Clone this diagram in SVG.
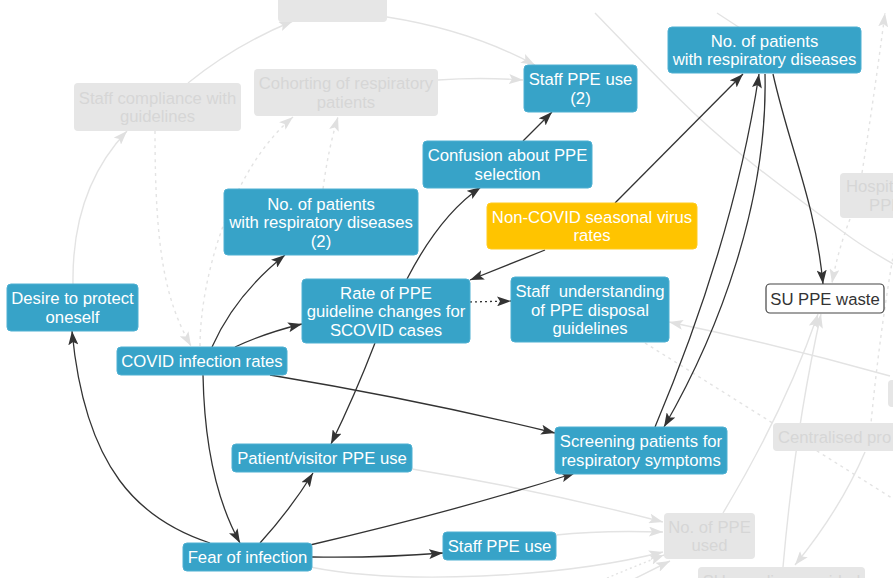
<svg xmlns="http://www.w3.org/2000/svg" width="893" height="578" viewBox="0 0 893 578">
<defs>
<style>
.n{fill:#37a3c8;stroke:#4fb0d2;stroke-width:1}
.y{fill:#ffc400;stroke:#ffcb20;stroke-width:1}
.g{fill:#e6e6e6;stroke:none}
.w{fill:#ffffff;stroke:#444;stroke-width:1.2}
.t{font-family:"Liberation Sans",Arial,sans-serif;font-size:16.7px;fill:#ffffff;text-anchor:middle}
.tg{font-family:"Liberation Sans",Arial,sans-serif;font-size:16.7px;fill:#d6d6d6;text-anchor:middle}
.td{font-family:"Liberation Sans",Arial,sans-serif;font-size:16.7px;fill:#333;text-anchor:middle}
.e{fill:none;stroke:#333;stroke-width:1.3}
.eg{fill:none;stroke:#e3e3e3;stroke-width:1.4}
.dash{stroke-dasharray:3 4}
.dot{stroke-dasharray:2 3}
</style>
<marker id="ad" markerUnits="userSpaceOnUse" orient="auto" markerWidth="14" markerHeight="10" refX="14" refY="5"><path d="M0,0 L14,5 L0,10 L3,5 z" fill="#333"/></marker>
<marker id="ag" markerUnits="userSpaceOnUse" orient="auto" markerWidth="14" markerHeight="10" refX="14" refY="5"><path d="M0,0 L14,5 L0,10 L3,5 z" fill="#e0e0e0"/></marker>
</defs>
<rect x="0" y="0" width="893" height="578" fill="#ffffff"/>
<g id="connectors-faded">
<path class="eg" d="M387,17 Q470,30 535,65" marker-end="url(#ag)"/>
<path class="eg" d="M438,80 Q480,77 523,80" marker-end="url(#ag)"/>
<path class="eg" d="M188,83 Q235,45 293,21" marker-end="url(#ag)"/>
<path class="eg" d="M73,284 C72,220 90,170 127,131" marker-end="url(#ag)"/>
<path class="eg dash" d="M155,131 C155,250 165,300 191,346" marker-end="url(#ag)"/>
<path class="eg dash" d="M200,346 C200,280 230,170 293,117" marker-end="url(#ag)"/>
<path class="eg dash" d="M323,189 Q328,150 338,117" marker-end="url(#ag)"/>
<path class="eg" d="M595,13 C660,80 700,125 780,185 S860,245 895,265"/>
<path class="eg" d="M717,13 L740,28"/>
<path class="eg dash" d="M862,173 Q875,90 885,13" marker-end="url(#ag)"/>
<path class="eg dash" d="M850,219 Q838,250 832,283" marker-end="url(#ag)"/>
<path class="eg dash" d="M895,245 Q880,330 871,423"/>
<path class="eg dash" d="M645,343 Q760,415 895,500"/>
<path class="eg" d="M890,376 Q780,345 669,322" marker-end="url(#ag)"/>
<path class="eg" d="M723,513 Q785,410 818,314" marker-end="url(#ag)"/>
<path class="eg" d="M783,567 Q795,430 821,314" marker-end="url(#ag)"/>
<path class="eg" d="M865,452 Q840,510 795,565" marker-end="url(#ag)"/>
<path class="eg" d="M412,469 Q540,490 663,522" marker-end="url(#ag)"/>
<path class="eg" d="M556,535 Q600,530 663,532" marker-end="url(#ag)"/>
<path class="eg" d="M310,567 C400,585 560,578 663,552" marker-end="url(#ag)"/>
<path class="eg dot" d="M598,582 Q630,568 664,555" marker-end="url(#ag)"/>
<path class="eg" d="M628,582 L670,561" marker-end="url(#ag)"/>
</g>
<g id="faded-nodes">
<g id="n-top"><rect class="g" x="278" y="-25" width="109" height="47" rx="4"/></g>
<g id="n-compliance"><rect class="g" x="74" y="83" width="167" height="48" rx="4"/><text class="tg" x="157.5" y="103.75">Staff compliance with</text><text class="tg" x="157.5" y="122.25">guidelines</text></g>
<g id="n-cohorting"><rect class="g" x="254" y="69" width="184" height="47" rx="4"/><text class="tg" x="346" y="89.25">Cohorting of respiratory</text><text class="tg" x="346" y="107.75">patients</text></g>
<g id="n-hospital"><rect class="g" x="840" y="173" width="80" height="45" rx="4"/><text class="tg" x="846" y="192" style="text-anchor:start">Hospital</text><text class="tg" x="869" y="210.5" style="text-anchor:start">PPE</text></g>
<g id="n-right"><rect class="g" x="888" y="380" width="30" height="27" rx="4"/></g>
<g id="n-centralised"><rect class="g" x="773" y="423" width="140" height="28" rx="4"/><text class="tg" x="778" y="443" style="text-anchor:start">Centralised pro</text></g>
<g id="n-ppeused"><rect class="g" x="664" y="513" width="91" height="46" rx="4"/><text class="tg" x="709.5" y="532.75">No. of PPE</text><text class="tg" x="709.5" y="551.25">used</text></g>
<g id="n-supplies"><rect class="g" x="698" y="567" width="167" height="28" rx="4"/><text class="tg" x="781.5" y="587">SU supplies provided</text></g>
</g>
<g id="connectors">
<path class="e" d="M523,141 L552,112" marker-end="url(#ad)"/>
<path class="e" d="M212,347 Q235,295 285,255" marker-end="url(#ad)"/>
<path class="e" d="M235,347 Q265,333 302,324" marker-end="url(#ad)"/>
<path class="e" d="M270,375 Q420,400 555,433" marker-end="url(#ad)"/>
<path class="e" d="M203,375 Q205,480 240,543" marker-end="url(#ad)"/>
<path class="e" d="M210,543 C140,520 85,470 72,331" marker-end="url(#ad)"/>
<path class="e" d="M260,543 Q290,510 313,473" marker-end="url(#ad)"/>
<path class="e" d="M375,343 Q355,395 331,444" marker-end="url(#ad)"/>
<path class="e" d="M312,557 Q380,558 443,553" marker-end="url(#ad)"/>
<path class="e" d="M310,545 Q460,510 575,473" marker-end="url(#ad)"/>
<path class="e" d="M407,279 Q440,215 481,187" marker-end="url(#ad)"/>
<path class="e" d="M545,250 L470,280" marker-end="url(#ad)"/>
<path class="e dot" d="M470,302 L511,301" marker-end="url(#ad)"/>
<path class="e" d="M615,203 L743,74" marker-end="url(#ad)"/>
<path class="e" d="M655,427 C700,320 740,200 759,74" marker-end="url(#ad)"/>
<path class="e" d="M765,74 C768,200 720,330 664,427" marker-end="url(#ad)"/>
<path class="e" d="M773,74 C790,150 815,200 823,284" marker-end="url(#ad)"/>
</g>
<g id="n-patients"><rect class="n" x="668" y="27" width="193" height="46" rx="4"/><text class="t" x="764.5" y="46.75">No. of patients</text><text class="t" x="764.5" y="65.25">with respiratory diseases</text></g>
<g id="n-staffppe2"><rect class="n" x="524" y="65" width="113" height="47" rx="4"/><text class="t" x="580.5" y="85.25">Staff PPE use</text><text class="t" x="580.5" y="103.75">(2)</text></g>
<g id="n-confusion"><rect class="n" x="423" y="141" width="169" height="47" rx="4"/><text class="t" x="507.5" y="161.25">Confusion about PPE</text><text class="t" x="507.5" y="179.75">selection</text></g>
<g id="n-noncovid"><rect class="y" x="487" y="203" width="210" height="46" rx="4"/><text class="t" x="592" y="222.75">Non-COVID seasonal virus</text><text class="t" x="592" y="241.25">rates</text></g>
<g id="n-patients2"><rect class="n" x="224" y="189" width="194" height="66" rx="4"/><text class="t" x="321" y="209.5">No. of patients</text><text class="t" x="321" y="228">with respiratory diseases</text><text class="t" x="321" y="246.5">(2)</text></g>
<g id="n-rate"><rect class="n" x="302" y="279" width="168" height="64" rx="4"/><text class="t" x="386" y="298.5">Rate of PPE</text><text class="t" x="386" y="317">guideline changes for</text><text class="t" x="386" y="335.5">SCOVID cases</text></g>
<g id="n-understanding"><rect class="n" x="511" y="277" width="158" height="65" rx="4"/><text class="t" x="590" y="297" xml:space="preserve" style="white-space:pre">Staff  understanding</text><text class="t" x="590" y="315.5">of PPE disposal</text><text class="t" x="590" y="334">guidelines</text></g>
<g id="n-desire"><rect class="n" x="7" y="284" width="131" height="47" rx="4"/><text class="t" x="72.5" y="304.25">Desire to protect</text><text class="t" x="72.5" y="322.75">oneself</text></g>
<g id="n-covid"><rect class="n" x="117" y="347" width="170" height="28" rx="4"/><text class="t" x="202" y="367">COVID infection rates</text></g>
<g id="n-patientvisitor"><rect class="n" x="232" y="444" width="180" height="28" rx="4"/><text class="t" x="322" y="464">Patient/visitor PPE use</text></g>
<g id="n-fear"><rect class="n" x="183" y="543" width="129" height="28" rx="4"/><text class="t" x="247.5" y="563">Fear of infection</text></g>
<g id="n-staffppe"><rect class="n" x="443" y="532" width="113" height="28" rx="4"/><text class="t" x="499.5" y="552">Staff PPE use</text></g>
<g id="n-screening"><rect class="n" x="555" y="427" width="172" height="47" rx="4"/><text class="t" x="641" y="447.25">Screening patients for</text><text class="t" x="641" y="465.75">respiratory symptoms</text></g>
<g id="n-waste"><rect class="w" x="766" y="284" width="118" height="29" rx="4"/><text class="td" x="825" y="304.5">SU PPE waste</text></g>
</svg>
